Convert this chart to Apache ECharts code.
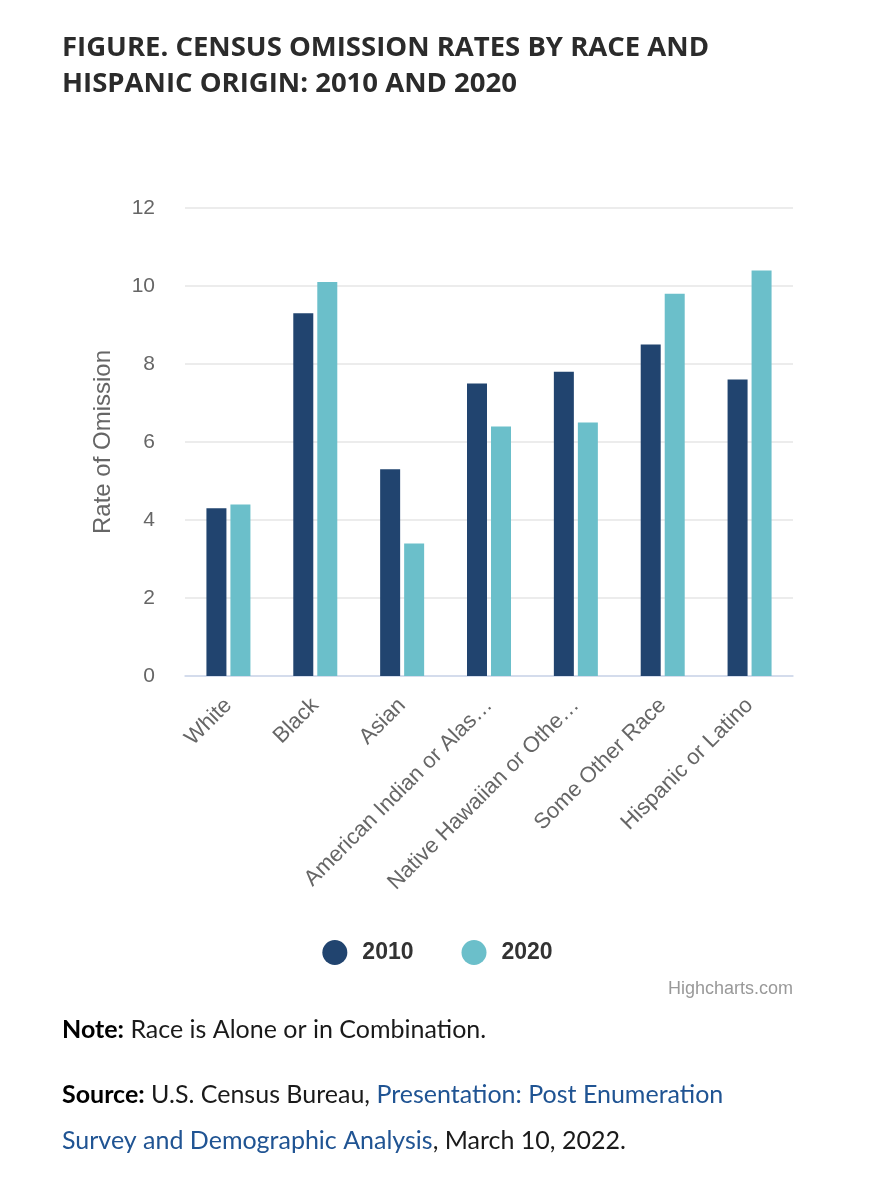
<!DOCTYPE html>
<html>
<head>
<meta charset="utf-8">
<script src="https://cdn.jsdelivr.net/npm/echarts@6/dist/echarts.min.js"></script>
<style>
  html, body { margin: 0; padding: 0; background: #fff; }
  #chart { width: 875px; height: 1200px; }
</style>
</head>
<body>
<div id="chart"></div>
<script>
// Census omission rates by race / Hispanic origin, 2010 vs 2020

const categories = ['White', 'Black', 'Asian', 'American Indian or Alaska Native',
    'Native Hawaiian or Other Pacific Islander', 'Some Other Race', 'Hispanic or Latino'];
const tickLabels = ['White', 'Black', 'Asian', 'American Indian or Alas…',
    'Native Hawaiian or Othe…', 'Some Other Race', 'Hispanic or Latino'];
const rates2010 = [4.3, 9.3, 5.3, 7.5, 7.8, 8.5, 7.6];
const rates2020 = [4.4, 10.1, 3.4, 6.4, 6.5, 9.8, 10.4];
const yTicks = [0, 2, 4, 6, 8, 10, 12];

const chart = echarts.init(document.getElementById('chart'));

const bodyFont = { fontFamily: 'Lato', fontSize: 25, lineHeight: 46, fontWeight: 'normal', color: '#1a1a1a' };

chart.setOption({
    animation: false,
    title: [{
        text: 'FIGURE. CENSUS OMISSION RATES BY RACE AND\nHISPANIC ORIGIN: 2010 AND 2020',
        left: 62, top: 30, padding: 0,
        textStyle: { fontFamily: 'Open Sans', fontWeight: 'bold', fontSize: 27.5, lineHeight: 36, color: '#2b2b2b' }
    }, {
        text: '{b|Note:} Race is Alone or in Combination.',
        left: 62, top: 1007, padding: 0,
        textStyle: Object.assign({}, bodyFont, {
            rich: { b: Object.assign({}, bodyFont, { fontWeight: 'bold', color: '#000' }) }
        })
    }, {
        text: '{b|Source:} U.S. Census Bureau, {a|Presentation: Post Enumeration}\n{a|Survey and Demographic Analysis}, March 10, 2022.',
        left: 62, top: 1072, padding: 0,
        textStyle: Object.assign({}, bodyFont, {
            rich: {
                b: Object.assign({}, bodyFont, { fontWeight: 'bold', color: '#000' }),
                a: Object.assign({}, bodyFont, { color: '#205493' })
            }
        })
    }],
    graphic: [{
        type: 'text', right: 82, top: 980,
        style: { text: 'Highcharts.com', fontFamily: 'Liberation Sans', fontSize: 18, fill: '#999' }
    }],
    legend: {
        left: 'center', top: 935,
        icon: 'circle', itemWidth: 25, itemHeight: 25, itemGap: 48,
        textStyle: { fontFamily: 'Liberation Sans', fontWeight: 'bold', fontSize: 23, color: '#333', padding: [0, 0, 0, 10] }
    },
    grid: { left: 185, right: 82, top: 208, bottom: 524 },
    xAxis: {
        type: 'category',
        data: categories,
        axisLine: { lineStyle: { color: '#ccd6eb', width: 1.5 } },
        axisTick: { show: false },
        axisLabel: {
            rotate: 45, margin: 26, interval: 0,
            fontFamily: 'Liberation Sans', fontSize: 22, color: '#666',
            formatter: (v, i) => tickLabels[i]
        }
    },
    yAxis: {
        type: 'value',
        min: yTicks[0], max: yTicks[yTicks.length - 1], interval: 2,
        name: 'Rate of Omission', nameLocation: 'middle', nameGap: 70,
        nameTextStyle: { fontFamily: 'Liberation Sans', fontSize: 24, color: '#666' },
        axisLabel: { margin: 30, fontFamily: 'Liberation Sans', fontSize: 21, color: '#666' },
        splitLine: { lineStyle: { color: '#e6e6e6', width: 1.5 } }
    },
    series: [{
        name: '2010', type: 'bar', data: rates2010,
        barWidth: 20, barGap: '20%',
        itemStyle: { color: '#21446f' }
    }, {
        name: '2020', type: 'bar', data: rates2020,
        barWidth: 20,
        itemStyle: { color: '#6bbfca' }
    }]
});
</script>
</body>
</html>
